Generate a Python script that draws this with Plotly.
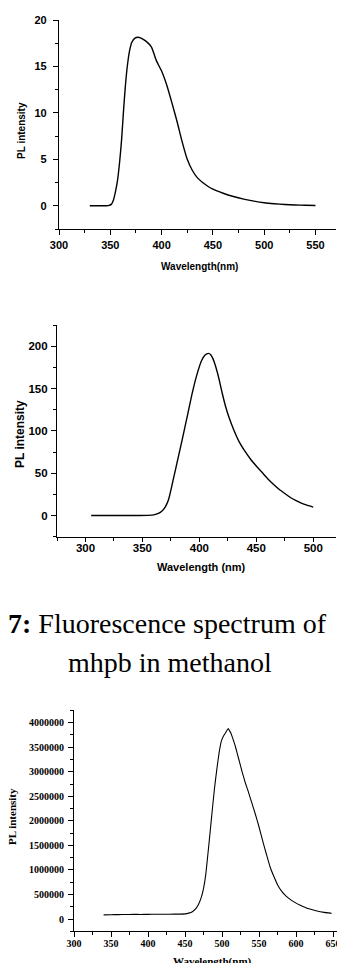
import plotly.graph_objects as go

# Spectrum 1
wl_a = [330, 340, 348, 351, 353, 355, 357, 359, 361, 363, 365, 367, 369, 371, 374, 377,
        380, 385, 390, 395, 400, 405, 410, 415, 420, 425, 430, 435, 440, 445, 450, 460,
        470, 480, 490, 500, 510, 520, 530, 540, 550]
pl_a = [0, 0, 0.02, 0.15, 0.6, 1.5, 2.7, 4.6, 7.1, 10.4, 13.3, 15.4, 16.8, 17.6, 18.05, 18.15,
        18.05, 17.7, 17.1, 15.6, 14.5, 13.0, 11.1, 9.1, 6.9, 5.0, 3.8, 3.0, 2.5, 2.1, 1.78, 1.35,
        1.0, 0.72, 0.5, 0.33, 0.22, 0.14, 0.09, 0.05, 0.03]

# Spectrum 2
wl_b = [305, 320, 340, 355, 360, 364, 367, 370, 373, 377, 381, 385, 390, 394, 398, 402,
        405, 408, 410, 412, 414, 416, 418, 420, 423, 426, 430, 435, 440, 445, 450, 455,
        460, 465, 470, 475, 480, 485, 490, 495, 500]
pl_b = [0, 0, 0, 0.2, 0.8, 2.5, 5, 10, 19, 42, 66, 90, 121, 146, 167, 183,
        189.5, 191.5, 190, 185, 177.5, 168, 157, 145, 129, 116, 102, 87, 76, 66.5, 58.5, 51,
        43.5, 37, 31, 26, 21.3, 17.5, 14.3, 12, 10]

# Spectrum 3 (mhpb in methanol)
wl_c = [340, 350, 360, 370, 380, 390, 400, 410, 420, 430, 440, 450, 455, 460, 464, 468,
        472, 475, 478, 481, 484, 487, 490, 493, 496, 499, 502, 505, 507, 508.5, 510, 512,
        515, 518, 521, 524, 527, 531, 535, 540, 545, 550, 555, 560, 565, 570, 575, 580,
        587, 595, 605, 615, 627, 638, 648]
pl_c = [85000, 88000, 90000, 92000, 95000, 93000, 95000, 97000, 96000, 98000, 100000, 105000,
        120000, 150000, 200000, 290000, 440000, 620000, 900000, 1330000, 1780000, 2240000,
        2680000, 3050000, 3380000, 3620000, 3730000, 3800000, 3850000, 3880000, 3840000,
        3790000, 3660000, 3520000, 3350000, 3180000, 3010000, 2800000, 2620000, 2380000,
        2140000, 1880000, 1590000, 1320000, 1060000, 870000, 700000, 580000, 460000, 370000,
        285000, 220000, 170000, 135000, 115000]

W, H = 337, 963


def fx(px):
    return px / W


def fy(px):
    return 1 - px / H


sans = dict(family="Liberation Sans, Arial, sans-serif", size=11, color="black", weight="bold")
serif = dict(family="Liberation Serif, Times New Roman, serif", size=10, color="black", weight="bold")

fig = go.Figure()
fig.add_trace(go.Scatter(x=wl_a, y=pl_a, mode="lines", line=dict(color="black", width=1.4, shape="spline", smoothing=0.6),
                         xaxis="x", yaxis="y", showlegend=False))
fig.add_trace(go.Scatter(x=wl_b, y=pl_b, mode="lines", line=dict(color="black", width=1.4, shape="spline", smoothing=0.6),
                         xaxis="x2", yaxis="y2", showlegend=False))
fig.add_trace(go.Scatter(x=wl_c, y=pl_c, mode="lines", line=dict(color="black", width=1.1, shape="spline", smoothing=0.4),
                         xaxis="x3", yaxis="y3", showlegend=False))


def ax(domain, rng, dtick, minor, font, anchor, standoff, ticklen=5, fmt=None):
    d = dict(domain=domain, range=rng, dtick=dtick, tick0=0, showline=True, linecolor="black",
             linewidth=1.2, ticks="outside", ticklen=ticklen, tickwidth=1.2, tickcolor="black",
             minor=dict(ticks="outside", ticklen=3, tickwidth=1, tickcolor="black", dtick=minor),
             showgrid=False, zeroline=False, tickfont=font, anchor=anchor,
             ticklabelstandoff=standoff, ticklabeloverflow="allow", fixedrange=True)
    if fmt:
        d["tickformat"] = fmt
    return d


fig.update_layout(
    width=W, height=H, margin=dict(l=0, r=0, t=0, b=0, autoexpand=False),
    paper_bgcolor="white", plot_bgcolor="white",
    xaxis=ax([fx(59), fx(336)], [300, 570], 50, 25, sans, "y", 1),
    yaxis=ax([fy(229), fy(20)], [-2.5, 20], 5, 2.5, sans, "x", 4),
    xaxis2=ax([fx(57), fx(336)], [275, 520], 50, 25, sans | dict(size=11.5), "y2", -4, ticklen=4),
    yaxis2=ax([fy(536.7), fy(325)], [-25, 225], 50, 25, sans | dict(size=11.5), "x2", 1),
    xaxis3=ax([fx(74), 1.0], [300, 655.4], 50, 25, serif, "y3", -2, fmt="d"),
    yaxis3=ax([fy(931.3), fy(710.4)], [-250000, 4250000], 500000, 250000, serif, "x3", 2, fmt="d"),
)

titles = [
    ("Wavelength(nm)", 200, 267, 0, sans | dict(size=10)),
    ("PL intensity", 21, 131, -90, sans | dict(size=10)),
    ("Wavelength (nm)", 201, 567, 0, sans | dict(size=11)),
    ("PL intensity", 20, 434, -90, sans | dict(size=12)),
    ("Wavelength(nm)", 213, 961, 0, serif | dict(size=11)),
    ("PL intensity", 12, 817, -90, serif | dict(size=11)),
]
for text, x, y, ang, font in titles:
    fig.add_annotation(text=text, x=fx(x), y=fy(y), xref="paper", yref="paper", showarrow=False,
                       xanchor="center", yanchor="middle", textangle=ang, font=font)

cap = dict(family="Liberation Serif, Times New Roman, serif", size=28, color="black")
fig.add_annotation(text="<b>7:</b> Fluorescence spectrum of", x=fx(167), y=fy(623), xref="paper", yref="paper",
                   showarrow=False, xanchor="center", yanchor="middle", font=cap)
fig.add_annotation(text="mhpb in methanol", x=fx(169.5), y=fy(662), xref="paper", yref="paper",
                   showarrow=False, xanchor="center", yanchor="middle", font=cap)

fig.write_html("out.html", config=dict(displayModeBar=False))
